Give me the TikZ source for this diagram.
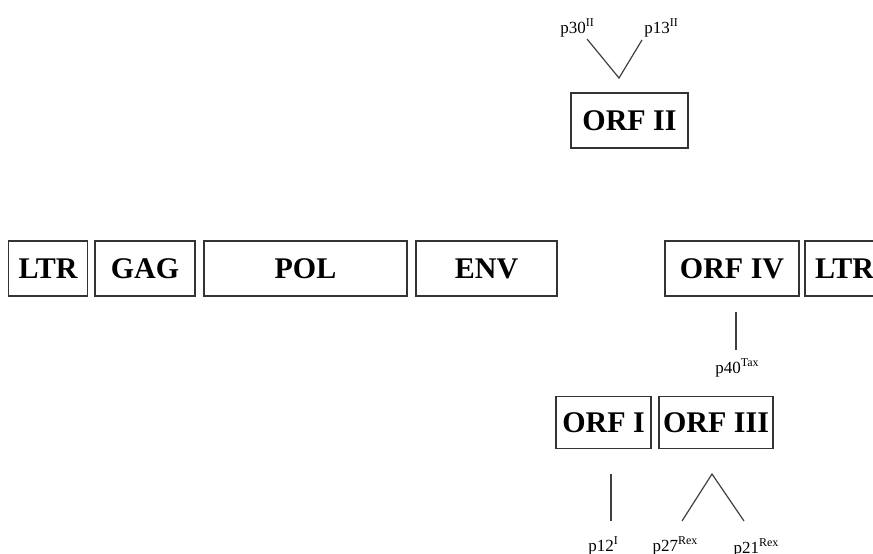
\documentclass[tikz,border=0pt]{standalone}
\usepackage{fontspec}
\setmainfont{Liberation Serif}
\newcommand{\sups}[1]{{\fontsize{12}{12}\selectfont\raisebox{7pt}{#1}}}
\begin{document}
\begin{tikzpicture}[x=1pt,y=-1pt,
  gene/.style={draw=black!80,line width=1.3pt,inner sep=0pt,
    font=\fontsize{30}{30}\selectfont\bfseries},
  prot/.style={inner sep=0pt,anchor=base,font=\fontsize{17}{17}\selectfont},
  link/.style={draw=black!75,line width=1.2pt}]
\useasboundingbox (0,0) rectangle (873,554);
% genome row
\node[gene,minimum width=79pt,minimum height=55pt] (ltrL) at (48,268.5) {LTR};
\node[gene,minimum width=100pt,minimum height=55pt] (gag) at (145,268.5) {GAG};
\node[gene,minimum width=203pt,minimum height=55pt] (pol) at (305.5,268.5) {POL};
\node[gene,minimum width=141pt,minimum height=55pt] (env) at (486.5,268.5) {ENV};
\node[gene,minimum width=134pt,minimum height=55pt] (orf4) at (732,268.5) {ORF IV};
\node[gene,minimum width=79pt,minimum height=55pt] (ltrR) at (844.5,268.5) {LTR};
% ORF II
\node[gene,minimum width=117pt,minimum height=55pt] (orf2) at (629.5,120.5) {ORF II};
\node[prot] (p30) at (577,33) {p30\sups{II}};
\node[prot] (p13) at (661,33) {p13\sups{II}};
\coordinate (a2) at (619,78);
\coordinate (p30e) at (587,39);
\coordinate (p13e) at (642,40);
\draw[link] (p30e) -- (a2) -- (p13e);
% ORF IV product
\coordinate (t1) at (736,312);
\coordinate (t2) at (736,350);
\draw[link] (t1) -- (t2);
\node[prot] (p40) at (737,373) {p40\sups{Tax}};
% ORF I / ORF III
\node[gene,minimum width=95pt,minimum height=52pt] (orf1) at (603.5,422.5) {ORF I};
\node[gene,minimum width=114pt,minimum height=52pt] (orf3) at (716,422.5) {ORF III};
\coordinate (i1) at (611,474);
\coordinate (i2) at (611,521);
\draw[link] (i1) -- (i2);
\node[prot] (p12) at (603,551) {p12\sups{I}};
\coordinate (a3) at (712,474);
\coordinate (r1) at (682,521);
\coordinate (r2) at (744,521);
\draw[link] (r1) -- (a3) -- (r2);
\node[prot] (p27) at (675,551) {p27\sups{Rex}};
\node[prot] (p21) at (756,553) {p21\sups{Rex}};
\end{tikzpicture}
\end{document}
